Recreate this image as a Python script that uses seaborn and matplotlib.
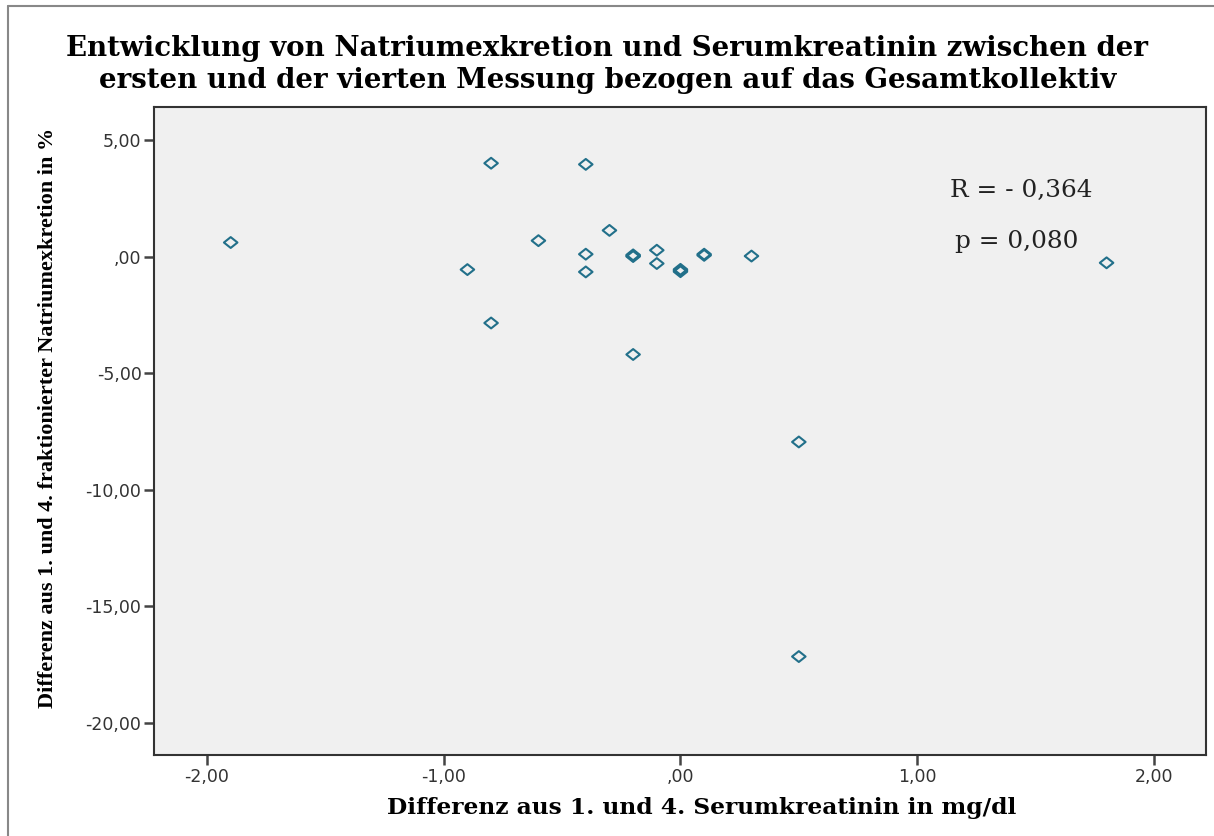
import numpy as np
import pandas as pd
import seaborn as sns
import matplotlib
matplotlib.use("Agg")
import matplotlib.pyplot as plt
from matplotlib.path import Path
from matplotlib.lines import Line2D

# Differences between first and fourth measurement
kreatinin_diff = [-1.9, -0.8, -0.4, -0.3, -0.6, -0.4, -0.4, -0.9, -0.8,
                  -0.2, -0.2, -0.2, -0.1, -0.1, 0.0, 0.0, 0.0, 0.1, 0.1,
                  0.3, -0.2, 0.5, 0.5, 1.8]
natrium_diff = [0.60, 4.00, 3.95, 1.12, 0.68, 0.10, -0.66, -0.56, -2.85,
                0.03, 0.00, 0.07, 0.27, -0.30, -0.60, -0.55, -0.65, 0.10, 0.05,
                0.02, -4.20, -7.95, -17.15, -0.27]

x_ticks = [-2.0, -1.0, 0.0, 1.0, 2.0]
x_ticklabels = ["-2,00", "-1,00", ",00", "1,00", "2,00"]
y_ticks = [5.0, 0.0, -5.0, -10.0, -15.0, -20.0]
y_ticklabels = ["5,00", ",00", "-5,00", "-10,00", "-15,00", "-20,00"]

title_lines = ["Entwicklung von Natriumexkretion und Serumkreatinin zwischen der",
               "ersten und der vierten Messung bezogen auf das Gesamtkollektiv"]
x_label = "Differenz aus 1. und 4. Serumkreatinin in mg/dl"
y_label = "Differenz aus 1. und 4. fraktionierter Natriumexkretion in %"
stat_r = "R = - 0,364"
stat_p = "p = 0,080"

df = pd.DataFrame({"kreatinin": kreatinin_diff, "natrium": natrium_diff})

sns.set_style("white")
plt.rcParams["font.family"] = ["DejaVu Sans"]

W, H = 1214, 836
fig = plt.figure(figsize=(W / 100, H / 100), dpi=100)
ax = fig.add_axes([154 / W, 1 - 755 / H, (1206 - 154) / W, (755 - 107) / H])
ax.set_facecolor("#f0f0f0")

# flattened open diamond marker
diamond = Path([(-1.0, 0.0), (0.0, 0.8), (1.0, 0.0), (0.0, -0.8), (-1.0, 0.0)],
               [Path.MOVETO, Path.LINETO, Path.LINETO, Path.LINETO, Path.CLOSEPOLY])

sns.scatterplot(data=df, x="kreatinin", y="natrium", ax=ax, marker=diamond,
                s=95, facecolor="none", edgecolor="#22708a", linewidth=1.5,
                color="#22708a", legend=False)

ax.set_xlim(-2.224, 2.22)
ax.set_ylim(-21.37, 6.41)
ax.set_xticks(x_ticks)
ax.set_xticklabels(x_ticklabels)
ax.set_yticks(y_ticks)
ax.set_yticklabels(y_ticklabels)
ax.tick_params(axis="both", direction="out", length=7, width=1.8,
               color="#444444", labelsize=12.5, labelcolor="#333333", pad=2,
               left=True, bottom=True)
for sp in ax.spines.values():
    sp.set_visible(True)
    sp.set_color("#333333")
    sp.set_linewidth(1.5)
ax.set_xlabel("")
ax.set_ylabel("")

renderer = fig.canvas.get_renderer()


def fit_width(txt, target_px, vertical=False):
    """Scale a text's font size so that its extent spans target_px."""
    for _ in range(3):
        bb = txt.get_window_extent(renderer=renderer)
        span = bb.height if vertical else bb.width
        txt.set_fontsize(txt.get_fontsize() * target_px / span)


wide_serif = ["DejaVu Serif"]
narrow_serif = ["Liberation Serif", "DejaVu Serif"]

t1 = fig.text(607 / W, 1 - 49 / H, title_lines[0], ha="center", va="center",
              fontsize=18, fontweight="bold", family=wide_serif, color="black")
fit_width(t1, 1083)
t2 = fig.text(608 / W, 1 - 80 / H, title_lines[1], ha="center", va="center",
              fontsize=t1.get_fontsize(), fontweight="bold", family=wide_serif,
              color="black")

xl = fig.text(702 / W, 1 - 808 / H, x_label, ha="center", va="center",
              fontsize=13, fontweight="bold", family=wide_serif, color="black")
fit_width(xl, 630)
yl = fig.text(48 / W, 1 - 418 / H, y_label, ha="center", va="center",
              rotation=90, fontsize=16, fontweight="bold", family=narrow_serif,
              color="black")
fit_width(yl, 581, vertical=True)

sr = ax.text(1.139, 2.85, stat_r, ha="left", va="center", fontsize=14,
             family=wide_serif, color="#222222")
fit_width(sr, 143)
sp_ = ax.text(1.16, 0.65, stat_p, ha="left", va="center",
              fontsize=sr.get_fontsize(), family=wide_serif, color="#222222")

# outer frame of the chart area
fig.add_artist(Line2D([8 / W, 8 / W], [0, 1 - 6 / H], transform=fig.transFigure,
                      color="#888888", linewidth=1.5))
fig.add_artist(Line2D([8 / W, 1], [1 - 6 / H, 1 - 6 / H], transform=fig.transFigure,
                      color="#888888", linewidth=1.5))

fig.savefig("out.png", dpi=100, facecolor="white")
